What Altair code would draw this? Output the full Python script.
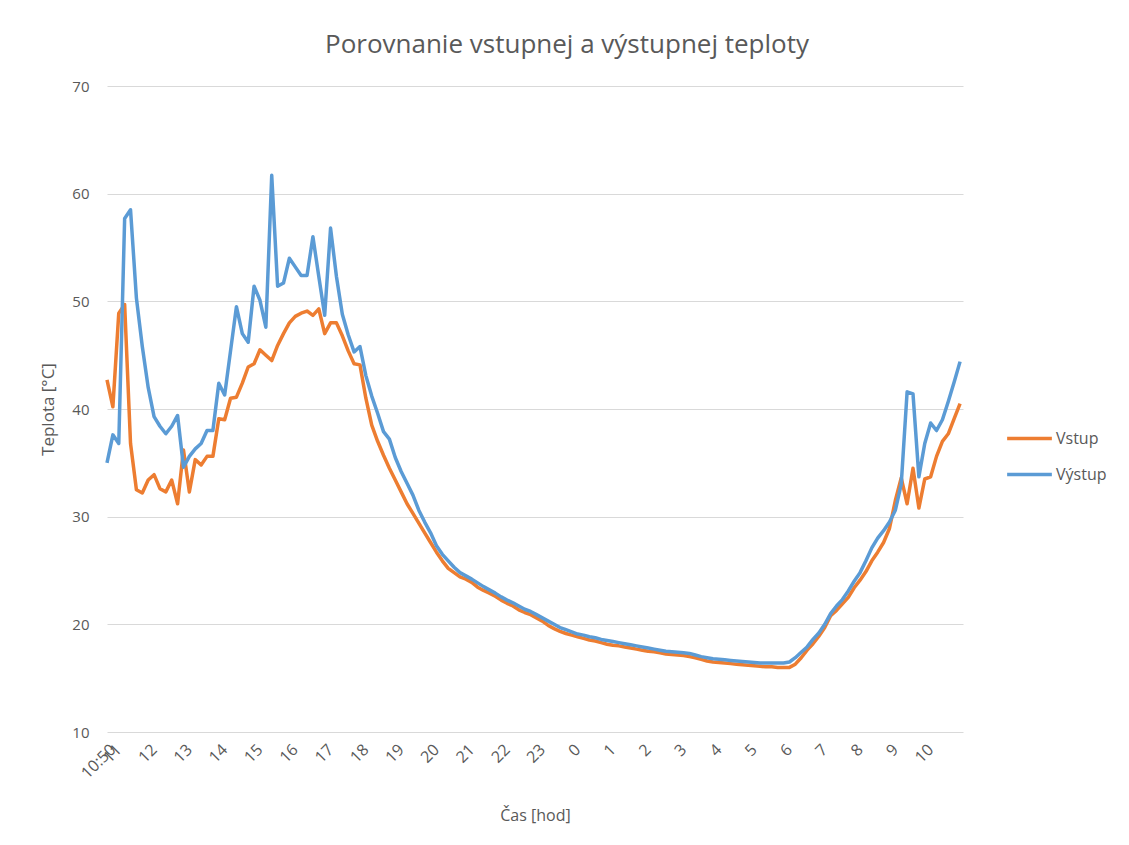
import json
import altair as alt
import pandas as pd

# 10-minute samples from 10:50 to 11:00 next day (146 points)
vstup = [
    42.7, 40.2, 48.9, 49.7, 36.8, 32.5, 32.2, 33.4, 33.9, 32.6,
    32.3, 33.4, 31.2, 36.2, 32.3, 35.3, 34.8, 35.6, 35.6, 39.1,
    39.0, 41.0, 41.1, 42.4, 43.9, 44.2, 45.5, 45.0, 44.5, 45.9,
    47.0, 48.0, 48.6, 48.9, 49.1, 48.7, 49.3, 47.0, 48.0, 48.0,
    46.8, 45.4, 44.2, 44.1, 41.0, 38.5, 37.0, 35.7, 34.5, 33.4,
    32.3, 31.2, 30.3, 29.4, 28.5, 27.6, 26.7, 25.9, 25.2, 24.8,
    24.4, 24.2, 23.9, 23.45, 23.15, 22.9, 22.6, 22.25, 21.95, 21.7,
    21.35, 21.1, 20.9, 20.6, 20.3, 19.9, 19.6, 19.35, 19.15, 19.0,
    18.85, 18.7, 18.55, 18.45, 18.3, 18.15, 18.05, 18.0, 17.9, 17.8,
    17.7, 17.6, 17.5, 17.45, 17.35, 17.25, 17.2, 17.15, 17.1, 17.0,
    16.9, 16.75, 16.6, 16.5, 16.45, 16.4, 16.35, 16.3, 16.25, 16.2,
    16.15, 16.1, 16.05, 16.05, 16.0, 16.0, 16.0, 16.3, 16.9, 17.6,
    18.2, 18.9, 19.7, 20.8, 21.3, 21.9, 22.5, 23.4, 24.1, 24.9,
    25.9, 26.7, 27.6, 28.9, 31.5, 33.6, 31.2, 34.5, 30.8, 33.5,
    33.7, 35.6, 37.0, 37.7, 39.1, 40.5,
]
vystup = [
    35.0, 37.6, 36.8, 57.7, 58.5, 50.3, 45.8, 42.0, 39.3, 38.4,
    37.7, 38.4, 39.4, 34.6, 35.6, 36.3, 36.8, 38.0, 38.0, 42.4,
    41.3, 45.4, 49.5, 47.0, 46.2, 51.4, 50.1, 47.6, 61.7, 51.4,
    51.7, 54.0, 53.2, 52.4, 52.4, 56.0, 52.3, 48.7, 56.8, 52.3,
    48.8, 46.9, 45.3, 45.8, 43.1, 41.2, 39.6, 37.9, 37.2, 35.5,
    34.2, 33.1, 32.0, 30.6, 29.5, 28.5, 27.3, 26.5, 25.9, 25.3,
    24.8, 24.5, 24.2, 23.85, 23.5, 23.2, 22.9, 22.55, 22.25, 22.0,
    21.7, 21.4, 21.2, 20.9, 20.6, 20.3, 20.0, 19.7, 19.5, 19.3,
    19.1, 19.0, 18.85, 18.75, 18.6, 18.5, 18.4, 18.3, 18.2, 18.1,
    18.0, 17.9, 17.8, 17.7, 17.6, 17.5, 17.45, 17.4, 17.35, 17.3,
    17.15, 17.0, 16.9, 16.8, 16.75, 16.7, 16.65, 16.6, 16.55, 16.5,
    16.45, 16.4, 16.4, 16.4, 16.4, 16.4, 16.5, 16.9, 17.4, 17.9,
    18.6, 19.2, 20.0, 21.0, 21.7, 22.3, 23.1, 24.0, 24.8, 25.9,
    27.1, 28.0, 28.7, 29.5, 30.6, 33.0, 41.6, 41.4, 33.7, 36.8,
    38.7, 38.0, 39.0, 40.7, 42.5, 44.4,
]
assert len(vstup) == len(vystup) == 146

series_names = ["Vstup", "Výstup"]
series_colors = ["#ED7D31", "#5B9BD5"]

x_tick_idx = [0, 1, 7, 13, 19, 25, 31, 37, 43, 49, 55, 61, 67, 73, 79, 85,
              91, 97, 103, 109, 115, 121, 127, 133, 139]
x_tick_labels = ["10:50", "11", "12", "13", "14", "15", "16", "17", "18",
                 "19", "20", "21", "22", "23", "0", "1", "2", "3", "4", "5",
                 "6", "7", "8", "9", "10"]
y_ticks = [10, 20, 30, 40, 50, 60, 70]

rows = []
for i, (a, b) in enumerate(zip(vstup, vystup)):
    rows.append({"idx": i, "series": series_names[0], "value": a})
    rows.append({"idx": i, "series": series_names[1], "value": b})
df = pd.DataFrame(rows)

label_expr = f"{json.dumps(x_tick_labels)}[indexof({json.dumps(x_tick_idx)}, datum.value)]"

FONT = "Open Sans"
GRAY = "#595959"

color = alt.Color(
    "series:N",
    scale=alt.Scale(domain=series_names, range=series_colors),
    legend=alt.Legend(
        orient="none", legendX=898, legendY=328, title=None,
        symbolType="stroke", symbolSize=2000, symbolStrokeWidth=3.5,
        labelFontSize=16, labelFont=FONT, labelColor=GRAY,
        rowPadding=3, labelOffset=2,
    ),
)

x = alt.X(
    "idx:Q",
    scale=alt.Scale(domain=[0, 145.5], nice=False, zero=False),
    axis=alt.Axis(
        values=x_tick_idx, labelExpr=label_expr, labelAngle=-45,
        labelAlign="right", labelBaseline="top", labelPadding=9,
        labelFontSize=16, labelFont=FONT, labelColor=GRAY,
        grid=False, ticks=False, domain=False, labelOverlap=False,
        title="Čas [hod]", titleFont=FONT, titleFontSize=16,
        titleFontWeight="normal", titleColor=GRAY, titlePadding=26,
        labelFlush=False,
    ),
)
y = alt.Y(
    "value:Q",
    scale=alt.Scale(domain=[10, 70], nice=False, zero=False),
    axis=alt.Axis(
        values=y_ticks, labelFontSize=15, labelFont=FONT, labelColor=GRAY,
        grid=True, gridColor="#D9D9D9", gridWidth=1, ticks=False,
        domain=False, labelPadding=18,
        title="Teplota [°C]", titleFont=FONT, titleFontSize=17,
        titleFontWeight="normal", titleColor=GRAY, titlePadding=14,
    ),
)

layers = []
for name in series_names:
    layers.append(
        alt.Chart(df)
        .transform_filter(alt.datum.series == name)
        .mark_line(strokeWidth=3.5, strokeJoin="round")
        .encode(x=x, y=y, color=color)
    )

chart = (
    alt.layer(*layers)
    .properties(
        width=856,
        height=646,
        background="white",
        autosize=alt.AutoSizeParams(type="none"),
        padding={"left": 99, "top": 78, "right": 150, "bottom": 100},
        title=alt.TitleParams(
            "Porovnanie vstupnej a výstupnej teploty",
            font=FONT, fontSize=26, fontWeight="normal", color=GRAY,
            anchor="middle", dx=32, offset=21,
        ),
    )
    .configure_view(strokeWidth=0, stroke="transparent")
)

chart.save("out.html", embed_options={"renderer": "svg", "actions": False})
